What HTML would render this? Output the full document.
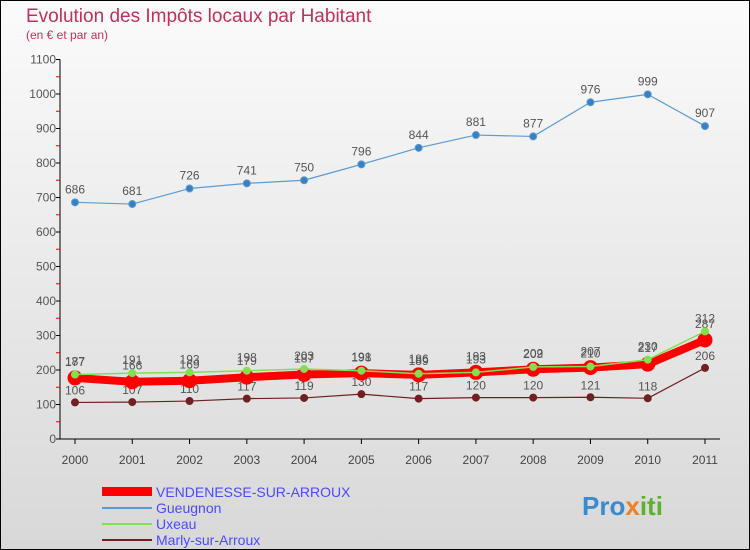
<!DOCTYPE html>
<html><head><meta charset="utf-8"><style>
body{margin:0;width:750px;height:550px;overflow:hidden;font-family:"Liberation Sans",sans-serif}
svg{display:block}
</style></head><body>
<svg width="750" height="550" xmlns="http://www.w3.org/2000/svg">
<defs><linearGradient id="bg" x1="0" y1="0" x2="0" y2="1"><stop offset="0" stop-color="#fbfbfb"/><stop offset="1" stop-color="#d8d8d8"/></linearGradient></defs>
<rect x="0.5" y="0.5" width="749" height="549" fill="url(#bg)" stroke="#000"/>
<text x="26" y="22" font-size="19" fill="#c0305a">Evolution des Impôts locaux par Habitant</text>
<text x="26" y="39" font-size="12" fill="#c0305a">(en € et par an)</text>
<g id="axes"></g>
<g id="series"></g>
<g>
<rect x="102" y="487" width="50" height="9" fill="#ff0000"/>
<text x="156" y="497" font-size="14" fill="#4a4aff">VENDENESSE-SUR-ARROUX</text>
<line x1="102" y1="508" x2="152" y2="508" stroke="#5b9bd5" stroke-width="2"/>
<text x="156" y="513" font-size="14" fill="#4a4aff">Gueugnon</text>
<line x1="102" y1="524" x2="152" y2="524" stroke="#80e050" stroke-width="2"/>
<text x="156" y="529" font-size="14" fill="#4a4aff">Uxeau</text>
<line x1="102" y1="540" x2="152" y2="540" stroke="#702020" stroke-width="2"/>
<text x="156" y="545" font-size="14" fill="#4a4aff">Marly-sur-Arroux</text>
</g>
<text x="582" y="515" font-size="26" font-weight="bold" fill="#3a8ad0">Pro<tspan fill="#f08020">x</tspan><tspan fill="#60b030">iti</tspan></text>
</svg>
<script>
const years=["2000","2001","2002","2003","2004","2005","2006","2007","2008","2009","2010","2011"];
const yTicks=[0,100,200,300,400,500,600,700,800,900,1000,1100];
const vendenesse=[177,166,169,179,187,191,186,193,202,207,217,287];
const gueugnon=[686,681,726,741,750,796,844,881,877,976,999,907];
const uxeau=[187,191,193,198,203,198,189,193,209,210,230,312];
const marly=[106,107,110,117,119,130,117,120,120,121,118,206];
const NS="http://www.w3.org/2000/svg";
const xs=i=>75+i*(630/11);
const ys=v=>439-v*0.345;
function mk(tag,attrs,parent){const e=document.createElementNS(NS,tag);for(const k in attrs)e.setAttribute(k,attrs[k]);parent.appendChild(e);return e;}
const ax=document.getElementById('axes');
let a=mk('line',{x1:60,y1:ys(1100),x2:60,y2:439,stroke:'#000'},ax);


a=mk('line',{x1:60,y1:439,x2:720,y2:439,stroke:'#000'},ax);


yTicks.forEach(t=>{
 mk('line',{x1:56,x2:60,y1:ys(t),y2:ys(t),stroke:'#000'},ax);
 if(t<1100)mk('line',{x1:56,x2:60,y1:ys(t+50),y2:ys(t+50),stroke:'#e00000'},ax);
 const tx=mk('text',{x:56,y:ys(t)+4,'font-size':12,fill:'#555','text-anchor':'end'},ax);
 tx.textContent=t;
 
 
});
years.forEach((y,i)=>{
 mk('line',{x1:xs(i),x2:xs(i),y1:439,y2:444,stroke:'#000'},ax);
 const tx=mk('text',{x:xs(i),y:464,'font-size':12,fill:'#444','text-anchor':'middle'},ax);
 tx.textContent=y;
 
 
});
const sg=document.getElementById('series');
function draw(data,name,color,w,r,dot,labelDy){
 const g=mk('g',{},sg);
 
 
 const pl=mk('polyline',{points:data.map((v,i)=>xs(i)+','+ys(v)).join(' '),fill:'none',stroke:color,'stroke-width':w,'stroke-linejoin':'round'},g);
 
 
 data.forEach((v,i)=>{
  const c=mk('circle',{cx:xs(i),cy:ys(v),r:r,fill:dot,stroke:color,'stroke-width':1},g);
  
  
  const t=mk('text',{x:xs(i),y:ys(v)+labelDy,'font-size':12,fill:'#555','text-anchor':'middle'},g);
  t.textContent=v;
  
  
 });
}
draw(marly,'marly','#702020',1.2,3.5,'#702020',-8);
draw(vendenesse,'vendenesse','#ff0000',8,7,'#ff0000',-12);
draw(uxeau,'uxeau','#80e050',1.5,3.5,'#80e050',-9);
draw(gueugnon,'gueugnon','#5b9bd5',1.2,3.5,'#3a80c0',-9);
// marly labels below
</script>
</body></html>
